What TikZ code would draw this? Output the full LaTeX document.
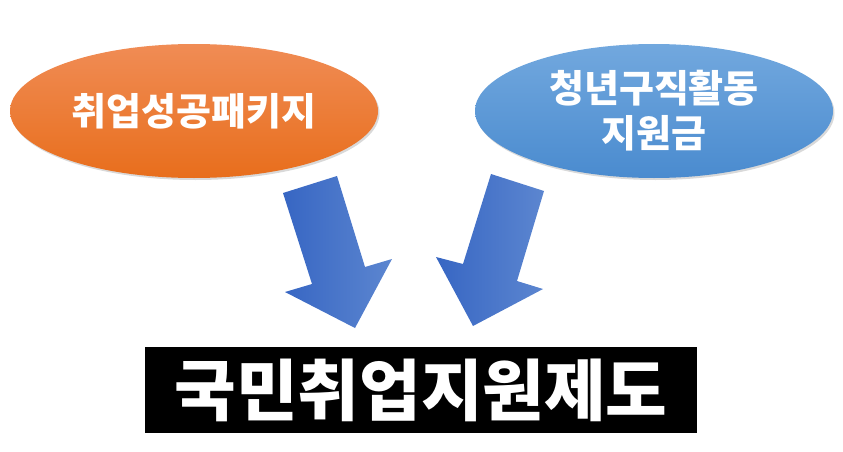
\documentclass[tikz,border=0pt]{standalone}
\usepackage{fontspec}
\newfontfamily\kr{Noto Sans CJK KR}
\usetikzlibrary{shapes.geometric,shadows}
\definecolor{orTop}{HTML}{F08C55}
\definecolor{orBot}{HTML}{E86E1C}
\definecolor{blTop}{HTML}{72A8DE}
\definecolor{blBot}{HTML}{4A8BCF}
\definecolor{arA}{HTML}{3766C3}
\definecolor{arB}{HTML}{5C86D0}
\tikzset{
  oval/.style={ellipse, inner sep=0pt, text=white, align=center,
    font=\kr\bfseries\fontsize{38}{45}\selectfont,
    drop shadow={opacity=0.3, shadow xshift=1.5pt, shadow yshift=-2pt}},
  blockarrow/.style={left color=arA, right color=arB, draw=none},
  titlebox/.style={fill=black, text=white, inner sep=0pt,
    minimum width=552pt, minimum height=86pt,
    font=\kr\bfseries\fontsize{67}{72}\selectfont}
}
\begin{document}
\begin{tikzpicture}[x=1pt,y=-1pt]
\useasboundingbox (0,0) rectangle (843,452);
\node[oval, top color=orTop, bottom color=orBot, minimum width=368pt, minimum height=134pt] (pkg) at (194,111) {취업성공패키지};
\node[oval, top color=blTop, bottom color=blBot, minimum width=358pt, minimum height=134pt] (grant) at (654,111) {청년구직활동\\지원금};
\path[blockarrow] (283,193) -- (337,176) -- (365,267) -- (392,259) -- (355,328) -- (285,292) -- (312,284) -- cycle;
\path[blockarrow] (491,174) -- (544,191) -- (517,281) -- (543,289) -- (473,326) -- (436,257) -- (463,264) -- cycle;
\node[titlebox] (sys) at (421,390) {국민취업지원제도};
\end{tikzpicture}
\end{document}
